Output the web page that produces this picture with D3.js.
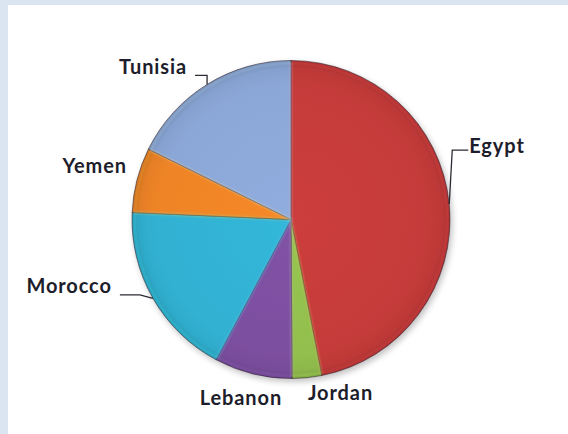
<!DOCTYPE html>
<html>
<head>
<meta charset="utf-8">
<script src="https://cdn.jsdelivr.net/npm/d3@7"></script>
<style>
  html, body { margin: 0; padding: 0; background: #dbe5f1; }
  svg { display: block; }
</style>
</head>
<body>
<svg id="chart" width="568" height="434"></svg>
<script>
// Share of each country, clockwise from 12 o'clock
const countries = ["Egypt", "Jordan", "Lebanon", "Morocco", "Yemen", "Tunisia"];
const shares    = [46.9, 3.0, 7.9, 17.9, 6.6, 17.7];
const colors    = ["#c53b3a", "#92bf4e", "#7c4fa0", "#31b1d2", "#ee8427", "#8ba7d7"];

const W = 568, H = 434;
const cx = 291, cy = 219.5, R = 159;

const svg = d3.select("#chart");

// Frame: blue-grey band on the top and left, white plot area
svg.append("rect").attr("width", W).attr("height", H).attr("fill", "#dbe5f1");
svg.append("rect").attr("x", 8).attr("y", 5).attr("width", W - 8).attr("height", H - 5).attr("fill", "#ffffff");

const defs = svg.append("defs");

// Soft shadow under the pie
const shadow = defs.append("filter").attr("id", "pieShadow")
  .attr("x", "-20%").attr("y", "-20%").attr("width", "140%").attr("height", "140%");
shadow.append("feGaussianBlur").attr("in", "SourceAlpha").attr("stdDeviation", 3).attr("result", "b");
shadow.append("feOffset").attr("in", "b").attr("dx", 1.5).attr("dy", 2.5).attr("result", "o");
shadow.append("feComponentTransfer").attr("in", "o").attr("result", "s")
  .append("feFuncA").attr("type", "linear").attr("slope", 0.25);
const merge = shadow.append("feMerge");
merge.append("feMergeNode").attr("in", "s");
merge.append("feMergeNode").attr("in", "SourceGraphic");

// Slight blur for the bevel highlights
defs.append("filter").attr("id", "soft")
  .append("feGaussianBlur").attr("stdDeviation", 0.8);

// Radial shading per slice (in the pie group's local space): brighter in the middle, darker on the rim
countries.forEach((c, i) => {
  const base = d3.color(colors[i]);
  const g = defs.append("radialGradient")
    .attr("id", "grad" + i)
    .attr("gradientUnits", "userSpaceOnUse")
    .attr("cx", 0).attr("cy", 0).attr("r", R);
  g.append("stop").attr("offset", "0%").attr("stop-color", base.brighter(0.1));
  g.append("stop").attr("offset", "85%").attr("stop-color", base);
  g.append("stop").attr("offset", "95%").attr("stop-color", base.darker(0.12));
  g.append("stop").attr("offset", "100%").attr("stop-color", base.darker(0.5));
});

const data = countries.map((c, i) => ({ name: c, value: shares[i], index: i }));

const pie = d3.pie().value(d => d.value).sort(null).startAngle(0).endAngle(2 * Math.PI);
const arcs = pie(data);

const arc = d3.arc().innerRadius(0).outerRadius(R);
const bevel = d3.arc().innerRadius(0).outerRadius(R - 2.5);

const pieG = svg.append("g").attr("transform", `translate(${cx},${cy})`);

const slices = pieG.append("g").attr("filter", "url(#pieShadow)");
slices.selectAll("path.slice")
  .data(arcs)
  .join("path")
  .attr("class", "slice")
  .attr("d", arc)
  .attr("fill", d => `url(#grad${d.data.index})`)
  .attr("stroke", "rgba(40,30,40,0.55)")
  .attr("stroke-width", 1);

// Bevel highlight inside each slice
pieG.append("g").attr("filter", "url(#soft)")
  .selectAll("path.bevel")
  .data(arcs)
  .join("path")
  .attr("class", "bevel")
  .attr("d", bevel)
  .attr("fill", "none")
  .attr("stroke", d => d3.color(colors[d.data.index]).brighter(0.9))
  .attr("stroke-opacity", 0.4)
  .attr("stroke-width", 1.6);

// Labels placed just outside each slice, relative to the rim point at the slice's mid-angle
const labelLayout = {
  Egypt:   { dx: 20,  dy: -51, anchor: "start",  leader: [[-17, -3], [-1, -3]] },
  Jordan:  { dx: 1,   dy: 22,  anchor: "start",  leader: null },
  Lebanon: { dx: -12, dy: 31,  anchor: "middle", leader: null },
  Morocco: { dx: -41, dy: -5,  anchor: "end",    leader: [[28, 1.5], [8, 1.5]] },
  Yemen:   { dx: -10, dy: -7,  anchor: "end",    leader: null },
  Tunisia: { dx: -20, dy: -10, anchor: "end",    leader: [[20, 1], [8, 1]] }
};

const rimPoint = d => {
  const a = (d.startAngle + d.endAngle) / 2;
  return [cx + R * Math.sin(a), cy - R * Math.cos(a)];
};

const labelsG = svg.append("g");
const line = d3.line();

arcs.forEach(d => {
  const L = labelLayout[d.data.name];
  const [rx, ry] = rimPoint(d);
  const lx = rx + L.dx, ly = ry + L.dy;
  if (L.leader) {
    const pts = [[rx, ry]].concat(L.leader.map(p => [lx + p[0], ly + p[1]]));
    labelsG.append("path")
      .attr("d", line(pts))
      .attr("fill", "none")
      .attr("stroke", "#2b2b33")
      .attr("stroke-width", 1.3);
  }
  labelsG.append("text")
    .attr("x", lx).attr("y", ly)
    .attr("text-anchor", L.anchor)
    .attr("font-family", "Lato, 'Open Sans', sans-serif")
    .attr("font-weight", 700)
    .attr("font-size", 20)
    .attr("letter-spacing", 0.9)
    .attr("fill", "#1d1d2b")
    .text(d.data.name);
});
</script>
</body>
</html>
